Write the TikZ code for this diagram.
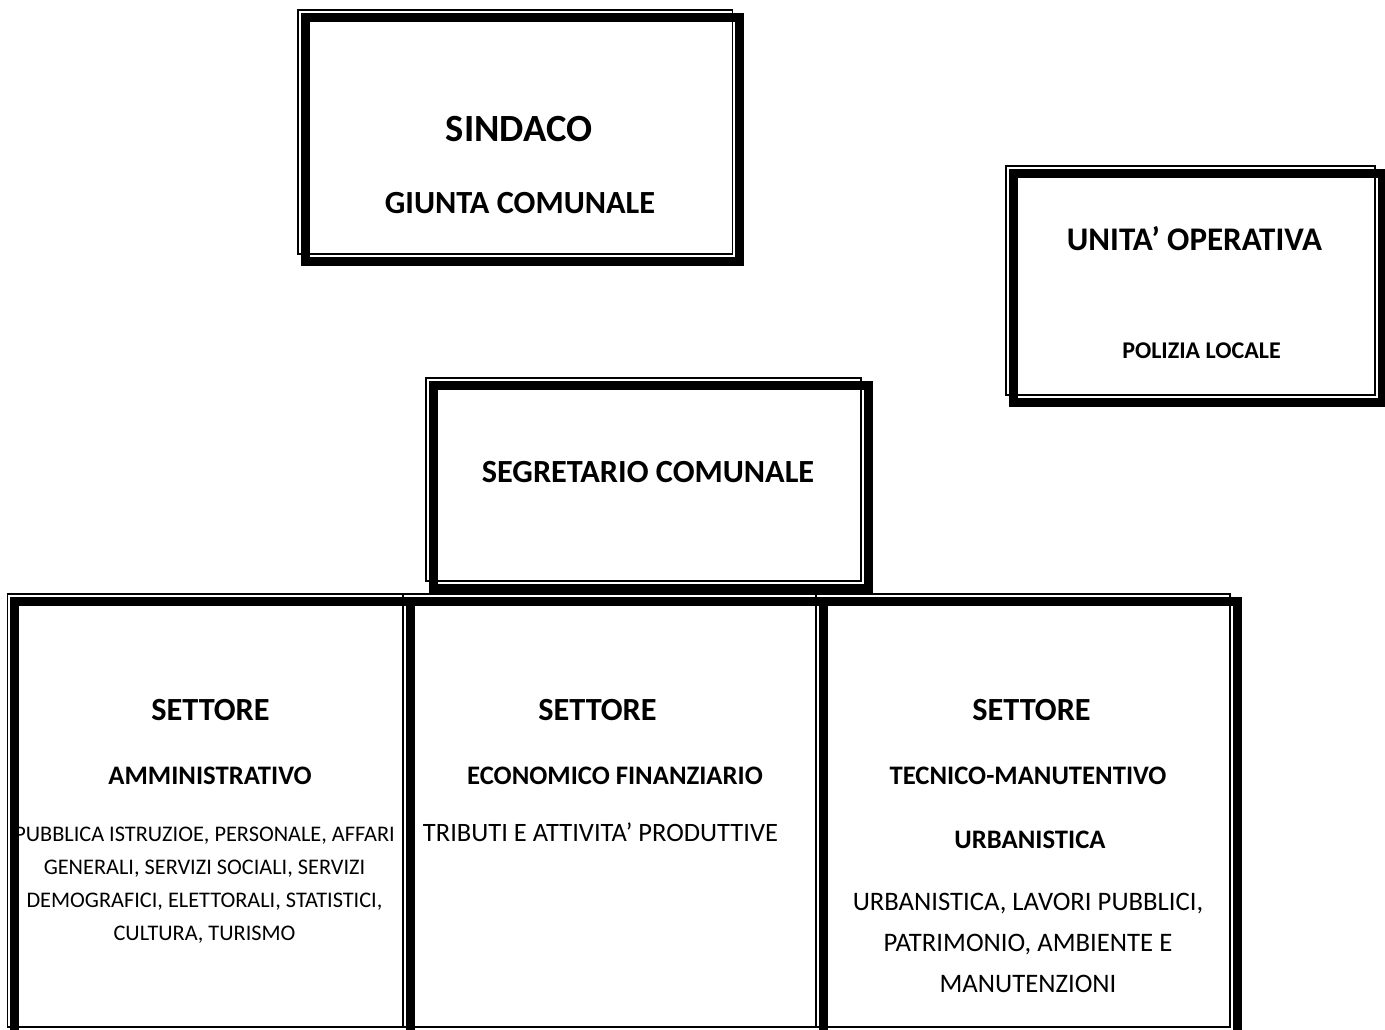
\documentclass[tikz,border=0pt]{standalone}
\usepackage{fontspec}
\setmainfont{Carlito}
\begin{document}
\begin{tikzpicture}[x=1pt,y=-1pt,
  thinbox/.style={draw, line width=1.4pt, inner sep=0pt, outer sep=0pt, rectangle},
  thickline/.style={line width=9pt},
  tbig/.style={font=\bfseries\fontsize{38.5}{38.5}\selectfont, anchor=base, inner sep=0pt},
  tmid/.style={font=\bfseries\fontsize{32.3}{32.3}\selectfont, anchor=base, inner sep=0pt},
  tsub/.style={font=\bfseries\fontsize{26.7}{26.7}\selectfont, anchor=base, inner sep=0pt},
  tsmallb/.style={font=\bfseries\fontsize{24}{24}\selectfont, anchor=base, inner sep=0pt},
  tsmall/.style={font=\fontsize{22.3}{22.3}\selectfont, anchor=base, inner sep=0pt},
  tnorm/.style={font=\fontsize{26.7}{26.7}\selectfont, anchor=base, inner sep=0pt}]
\useasboundingbox (0,0) rectangle (1385,1030);
% boxes
\node[thinbox, minimum width=434.5pt, minimum height=244pt] (sindaco) at (515.25,132) {};
\node[thinbox, minimum width=369pt, minimum height=229pt] (unita) at (1190.5,280.5) {};
\node[thinbox, minimum width=435pt, minimum height=203pt] (segr) at (643.5,479.5) {};
\node[thinbox, minimum width=395.5pt, minimum height=433pt] (amm) at (205.25,810.5) {};
\node[thinbox, minimum width=413pt, minimum height=433pt] (eco) at (609.5,810.5) {};
\node[thinbox, minimum width=414pt, minimum height=433pt] (tec) at (1023,810.5) {};
\foreach \b in {sindaco,unita,segr,amm,eco,tec}
  \draw[thickline] ([shift={(7.2,7.5)}]\b.north west) rectangle ([shift={(7.2,7.5)}]\b.south east);
% texts
\node[tbig] (t1) at (519,142) {SINDACO};
\node[tmid] (t2) at (520,214) {GIUNTA COMUNALE};
\node[tmid, font=\bfseries\fontsize{33}{33}\selectfont] (t3) at (1194.5,251) {UNITA’ OPERATIVA};
\node[tsmallb] (t4) at (1201.5,358) {POLIZIA LOCALE};
\node[tmid] (t5) at (648,482) {SEGRETARIO COMUNALE};
\node[tmid] (t6) at (210.5,720) {SETTORE};
\node[tsub] (t7) at (210,784) {AMMINISTRATIVO};
\node[tsmall] (t8) at (204.5,841) {PUBBLICA ISTRUZIOE, PERSONALE, AFFARI};
\node[tsmall] (t9) at (204.5,874) {GENERALI, SERVIZI SOCIALI, SERVIZI};
\node[tsmall] (t10) at (204.5,907) {DEMOGRAFICI, ELETTORALI, STATISTICI,};
\node[tsmall] (t11) at (204.5,940) {CULTURA, TURISMO};
\node[tmid] (t12) at (597.5,720) {SETTORE};
\node[tsub] (t13) at (615,784) {ECONOMICO FINANZIARIO};
\node[tnorm, font=\fontsize{26.5}{26.5}\selectfont] (t14) at (600.5,841) {TRIBUTI E ATTIVITA’ PRODUTTIVE};
\node[tmid] (t15) at (1031.5,720) {SETTORE};
\node[tsub] (t16) at (1028,784) {TECNICO-MANUTENTIVO};
\node[tsub] (t17) at (1030,848) {URBANISTICA};
\node[tnorm] (t18) at (1028,910) {URBANISTICA, LAVORI PUBBLICI,};
\node[tnorm] (t19) at (1028,951) {PATRIMONIO, AMBIENTE E};
\node[tnorm] (t20) at (1028,992) {MANUTENZIONI};
\end{tikzpicture}
\end{document}
